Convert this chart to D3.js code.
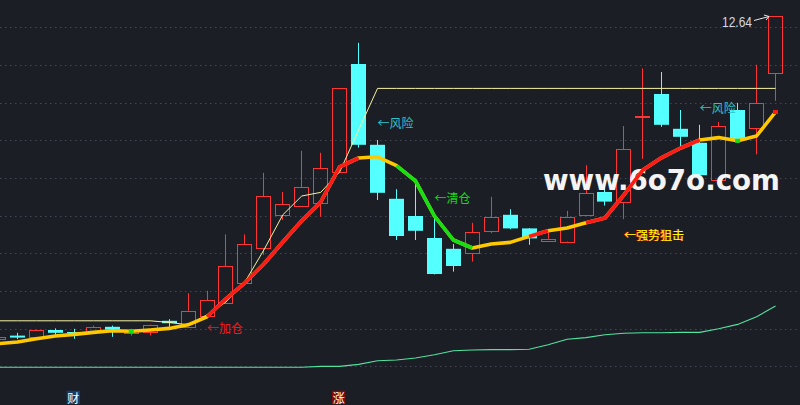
<!DOCTYPE html>
<html><head><meta charset="utf-8">
<script src="https://cdn.jsdelivr.net/npm/d3@7"></script>
<style>html,body{margin:0;padding:0;background:#1c1e26;overflow:hidden}</style>
</head><body><svg id="c" width="800" height="405"></svg>
<script>
// ---- data (index -1 is the partly visible candle at the left edge) ----
const candleIndex = d3.range(-1, 41);
const openP  = [4.56,4.65,4.62,4.79,4.74,4.74,4.87,4.72,4.73,5.02,4.87,5.15,5.47,5.96,6.83,7.66,7.88,7.96,8.75,11.44,9.42,8.07,7.64,7.09,6.82,6.71,7.27,7.67,7.33,7.01,7.00,7.66,8.24,7.98,10.13,10.69,9.82,9.47,8.54,10.29,9.83,11.21];
const highP  = [4.65,4.72,4.80,4.83,4.82,4.90,4.90,4.82,4.93,5.06,5.71,5.77,7.18,7.18,8.72,8.24,9.27,9.22,10.84,11.97,9.54,8.31,8.54,7.62,6.94,7.47,8.12,7.81,7.34,7.29,7.77,8.91,8.63,9.89,11.33,11.24,10.29,9.92,9.99,10.47,11.42,12.64];
const lowP   = [4.53,4.56,4.61,4.67,4.57,4.73,4.62,4.65,4.65,4.87,4.86,5.14,5.46,5.95,6.67,7.54,7.87,7.62,8.74,9.35,8.04,7.04,7.04,6.18,6.25,6.50,7.21,7.31,6.92,7.00,6.97,7.65,7.90,7.56,9.07,9.87,9.37,8.65,8.53,9.53,9.18,10.52];
const closeP = [4.62,4.60,4.79,4.72,4.72,4.86,4.80,4.80,4.92,4.96,5.27,5.53,6.39,6.93,8.13,7.93,8.36,8.83,10.83,9.42,8.22,7.14,7.27,6.19,6.39,7.24,7.62,7.33,7.08,7.07,7.62,8.21,8.00,9.31,10.14,9.92,9.62,8.66,9.88,9.54,10.46,12.64];
// thick trend line and its state per point (y = flat, r = rising, g = falling)
const trendLine = [4.45,4.49,4.57,4.64,4.68,4.73,4.77,4.76,4.79,4.83,4.92,5.12,5.57,5.97,6.44,6.99,7.52,7.99,8.87,9.09,9.12,8.90,8.52,7.64,7.04,6.84,6.94,6.98,7.13,7.27,7.34,7.47,7.59,8.17,8.79,9.10,9.34,9.54,9.60,9.52,9.64,10.24];
const trendState = "yyyyyyygyyyrrrrrrrrryggggg yyrryrrrrrrrygyr".replace(/ /g,"").split("");
// thin pale line
const paleLine = [5.02,5.02,5.02,5.02,5.02,5.02,5.02,5.02,5.02,4.98,4.92,5.17,5.49,5.99,6.79,7.67,8.14,8.23,8.74,9.79,10.83,10.83,10.83,10.83,10.83,10.83,10.83,10.83,10.83,10.83,10.83,10.83,10.83,10.83,10.83,10.83,10.83,10.83,10.83,10.83,10.83,10.83];
// low green line
const baseLine = [3.86,3.86,3.86,3.86,3.86,3.86,3.86,3.86,3.86,3.86,3.86,3.86,3.86,3.86,3.86,3.86,3.86,3.88,3.88,3.93,4.02,4.04,4.09,4.17,4.27,4.29,4.30,4.30,4.31,4.42,4.56,4.60,4.67,4.71,4.72,4.72,4.73,4.73,4.82,4.93,5.12,5.39];
// annotations
const noteIndex = [10, 19, 22, 32, 36];
const notePrice = [4.85, 9.98, 8.10, 7.18, 10.35];
const noteText  = ["←加仓", "←风险", "←清仓", "←强势狙击", "←风险"];
const markIndex = [3, 17];
const markText  = ["财", "涨"];
const lastLabel = "12.64";
const watermark = "www.6o7o.com";

// ---- drawing ----
const W = 800, H = 405;
const svg = d3.select("#c");
svg.append("rect").attr("width", W).attr("height", H).attr("fill", "#1c1e26");

const x = d3.scaleLinear().domain([-1, 40]).range([-1.45, 775.5]);
const y = d3.scaleLinear().domain([3.0, 12.64]).range([401.6, 16]);

// dotted grid
const gridY = d3.range(10).map(k => 27.3 + 37.67 * k);
svg.append("g").selectAll("line").data(gridY).join("line")
  .attr("x1", 0).attr("x2", W)
  .attr("y1", d => Math.round(d) + 0.5).attr("y2", d => Math.round(d) + 0.5)
  .attr("stroke", "#444854").attr("stroke-width", 1)
  .attr("stroke-dasharray", "1.5,3.5");

const pts = candleIndex.map((i, k) => ({i, k}));

// bottom line
svg.append("path")
  .attr("d", d3.line().x(d => x(d.i)).y(d => y(baseLine[d.k]))(pts))
  .attr("fill", "none").attr("stroke", "#52e3a0").attr("stroke-width", 1.1);

// candles
const cg = svg.append("g");
pts.forEach(d => {
  const o = openP[d.k], c = closeP[d.k], h = highP[d.k], l = lowP[d.k];
  const cx = x(d.i);
  const left = Math.round(cx - 7.5);
  const wx = left + 7.5;
  const up = c >= o;
  const top = y(Math.max(o, c)), bot = y(Math.min(o, c));
  if (up) {
    const col = "#ff3434";
    cg.append("line").attr("x1", wx).attr("x2", wx).attr("y1", y(h)).attr("y2", top).attr("stroke", col);
    cg.append("line").attr("x1", wx).attr("x2", wx).attr("y1", bot).attr("y2", y(l)).attr("stroke", col);
    cg.append("rect").attr("x", left + 0.5).attr("y", Math.round(top) + 0.5)
      .attr("width", 14).attr("height", Math.max(1, Math.round(bot) - Math.round(top)))
      .attr("fill", "none").attr("stroke", col).attr("stroke-width", 1);
  } else {
    const col = "#54ffff";
    cg.append("line").attr("x1", wx).attr("x2", wx).attr("y1", y(h)).attr("y2", y(l)).attr("stroke", col);
    cg.append("rect").attr("x", left).attr("y", top)
      .attr("width", 15).attr("height", Math.max(1, bot - top)).attr("fill", col);
  }
});

// watermark
svg.append("text").attr("x", 543).attr("y", 190)
  .attr("font-family", "DejaVu Sans, Verdana, sans-serif").attr("font-weight", "bold")
  .attr("font-size", 27.5).attr("fill", "#f4f4f4")
  .attr("textLength", 237).attr("lengthAdjust", "spacingAndGlyphs")
  .text(watermark);

// pale thin line
svg.append("path")
  .attr("d", d3.line().x(d => x(d.i)).y(d => y(paleLine[d.k]))(pts))
  .attr("fill", "none").attr("stroke", "#f6f3a0").attr("stroke-width", 1);

// thick trend line: base yellow + overlays
const tl = d3.line().x(d => x(d.i)).y(d => y(trendLine[d.k]));
svg.append("path").attr("d", tl(pts)).attr("fill", "none")
  .attr("stroke", "#ffc800").attr("stroke-width", 3.6).attr("stroke-linejoin", "round");
const stateColor = {r: "#ff1a1a", g: "#14e014"};
["r", "g"].forEach(s => {
  const lg = d3.line().defined(d => trendState[d.k] === s).x(d => x(d.i)).y(d => y(trendLine[d.k]));
  svg.append("path").attr("d", lg(pts)).attr("fill", "none")
    .attr("stroke", stateColor[s]).attr("stroke-width", 3.6).attr("stroke-linejoin", "round");
  pts.filter(d => trendState[d.k] === s &&
      trendState[d.k - 1] !== s && trendState[d.k + 1] !== s)
    .forEach(d => svg.append("rect").attr("x", x(d.i) - 2.5).attr("y", y(trendLine[d.k]) - 2)
      .attr("width", 5).attr("height", 4).attr("fill", stateColor[s]));
});

// annotations
const noteColor = {"←加仓": "#f01c1c", "←风险": "#2cc4cc", "←清仓": "#18d818", "←强势狙击": "#ffff00"};
noteText.forEach((t, k) => {
  const tx = x(noteIndex[k]), ty = y(notePrice[k]);
  const mk = (col, dx) => svg.append("text").attr("x", tx + dx).attr("y", ty)
    .attr("dominant-baseline", "central")
    .attr("font-family", "Noto Sans CJK SC, sans-serif").attr("font-size", 12)
    .attr("fill", col).text(t);
  if (t === "←强势狙击") { mk("#ff2020", -1); mk("#ffff00", 0.3); }
  else mk(noteColor[t], 0);
});

// last price label with pointer
const li = 40, lk = 41;
const hx = Math.round(x(li) - 7.5) + 1, hy = y(highP[lk]);
svg.append("text").attr("x", hx - 17).attr("y", hy + 10.5).attr("text-anchor", "end")
  .attr("font-family", "Liberation Sans, Arial, sans-serif").attr("font-size", 14)
  .attr("textLength", 30).attr("lengthAdjust", "spacingAndGlyphs")
  .attr("fill", "#d4d8e2").text(lastLabel);
svg.append("line").attr("x1", hx - 15).attr("y1", hy + 4.5).attr("x2", hx).attr("y2", hy + 0.5)
  .attr("stroke", "#e8e8e8").attr("stroke-width", 1);
svg.append("path").attr("d", `M${hx - 5},${hy - 1} L${hx},${hy + 0.5} L${hx - 3},${hy + 4}`)
  .attr("fill", "none").attr("stroke", "#e8e8e8").attr("stroke-width", 1);

// bottom markers
const markBg = {"财": "#163d68", "涨": "#7c0c0c"};
markText.forEach((t, k) => {
  const mx = x(markIndex[k]) - 1;
  svg.append("rect").attr("x", mx - 6.7).attr("y", 390.7).attr("width", 13.4).attr("height", 13.3)
    .attr("fill", markBg[t]);
  svg.append("text").attr("x", mx).attr("y", 397.5).attr("text-anchor", "middle")
    .attr("dominant-baseline", "central")
    .attr("font-family", "Noto Sans CJK SC, sans-serif").attr("font-size", 12)
    .attr("fill", "#ffffff").text(t);
});
</script></body></html>
